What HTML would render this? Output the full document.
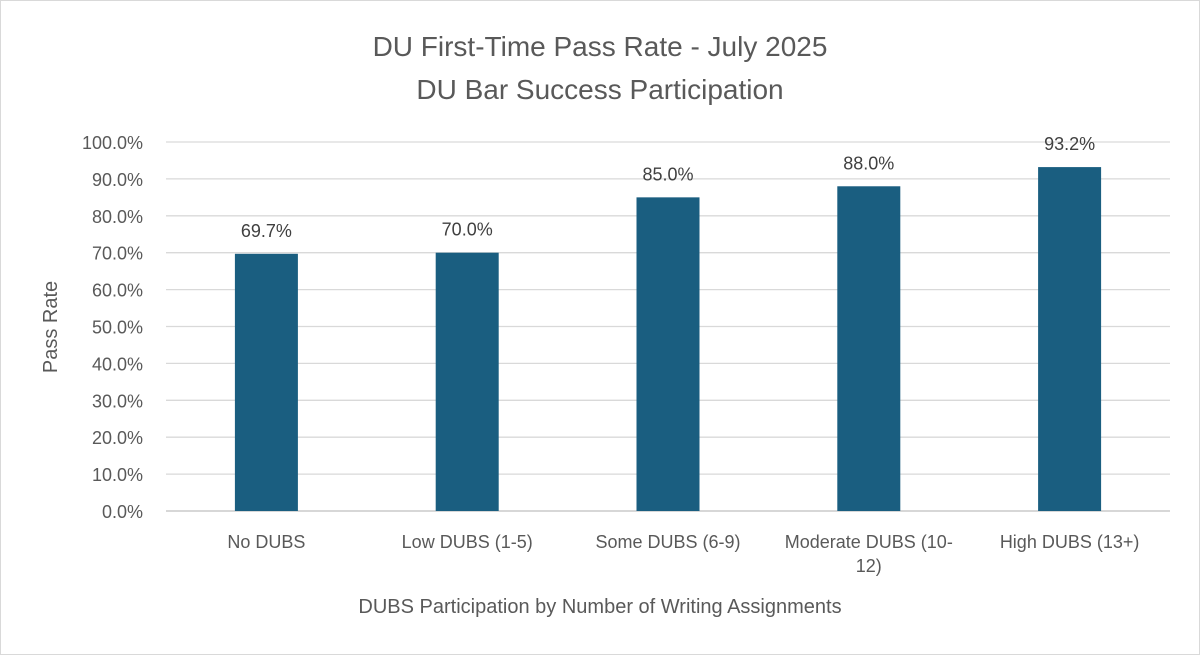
<!DOCTYPE html>
<html><head><meta charset="utf-8"><style>
html,body{margin:0;padding:0;background:#fff;}
svg{display:block;font-family:"Liberation Sans",sans-serif;}
</style></head><body>
<svg id="chart" width="1200" height="655" viewBox="0 0 1200 655">
<rect x="0.5" y="0.5" width="1199" height="654" fill="#fff" stroke="#d9d9d9"/>
<text x="600" y="56" text-anchor="middle" font-size="28" fill="#595959">DU First-Time Pass Rate - July 2025</text>
<text x="600" y="99" text-anchor="middle" font-size="28" fill="#595959">DU Bar Success Participation</text>
<text transform="translate(57,327) rotate(-90)" text-anchor="middle" font-size="20" fill="#595959">Pass Rate</text>
<text x="600" y="613" text-anchor="middle" font-size="20" fill="#595959">DUBS Participation by Number of Writing Assignments</text>
<g id="grid"></g><g id="bars"></g><g id="labels"></g>
</svg>
<script>
const categories = ["No DUBS","Low DUBS (1-5)","Some DUBS (6-9)","Moderate DUBS (10-|12)","High DUBS (13+)"];
const values = [69.7, 70.0, 85.0, 88.0, 93.2];
const yTicks = [0,10,20,30,40,50,60,70,80,90,100];
const NS="http://www.w3.org/2000/svg";
const x0=166, x1=1170, yBase=511, yTop=142;
const y = v => yBase - (v/100)*(yBase-yTop);
const band = (x1-x0)/categories.length;
const xc = i => x0 + band*(i+0.5);
function mk(tag, attrs, parent){const e=document.createElementNS(NS,tag);for(const k in attrs)e.setAttribute(k,attrs[k]);parent.appendChild(e);return e;}
const grid=document.getElementById('grid'), bars=document.getElementById('bars'), labels=document.getElementById('labels');
yTicks.forEach(t=>{
  const l=mk('line',{x1:x0,x2:x1,y1:y(t),y2:y(t),stroke:t===0?'#bfbfbf':'#d9d9d9','stroke-width':1.3},grid);
  
  
  const tx=mk('text',{x:143,y:y(t)+7,'text-anchor':'end','font-size':18,fill:'#595959'},grid);
  tx.textContent=t.toFixed(1)+'%';
  
  
});
values.forEach((v,i)=>{
  const w=63;
  const r=mk('rect',{x:xc(i)-w/2,y:y(v),width:w,height:yBase-y(v),fill:'#1a5e80'},bars);
  
  
  const t=mk('text',{x:xc(i),y:y(v)-17,'text-anchor':'middle','font-size':18,fill:'#404040'},labels);
  t.textContent=v.toFixed(1)+'%';
  
  
  const parts=categories[i].split('|');
  parts.forEach((p,j)=>{
    const c=mk('text',{x:xc(i),y:548+j*24,'text-anchor':'middle','font-size':18,fill:'#595959'},labels);
    c.textContent=p;
    
    
  });
});
</script>
</body></html>
